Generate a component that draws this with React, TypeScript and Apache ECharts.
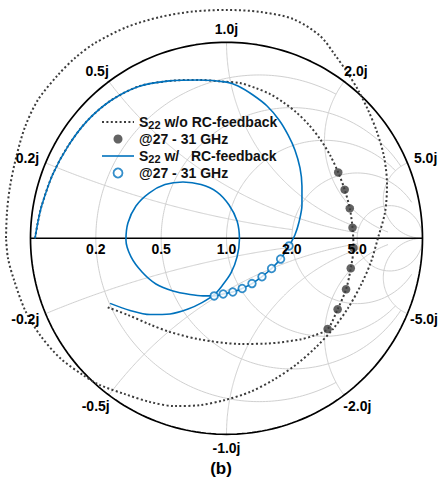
import React, { useEffect, useRef } from "react";
import * as echarts from "echarts";

const FONT = '"Liberation Sans", Arial, sans-serif';
const BLUE = "#0072BD";
const DARK = "#3c3c3c";
const GRID_COLOR = "#d0d0d0";
const CLEAR = "rgba(0,0,0,0)";

// Smith-chart grid: constant-resistance circles and constant-reactance arcs,
// each with the extent (in the other coordinate) up to which it is drawn.
const resistanceCircles = [0.2, 0.5, 1, 2, 5];
const resistanceExtent = [2, 5, 5, 10, Infinity];
const reactanceArcs = [0.2, 0.5, 1, 2, 5];
const reactanceExtent = [2, 5, 5, 10, Infinity];

const realTickValues = [0.2, 0.5, 1, 2, 5];
const realTickLabels = ["0.2", "0.5", "1.0", "2.0", "5.0"];
const imagTickValues = [0.2, 0.5, 1, 2, 5, -0.2, -0.5, -1, -2, -5];
const imagTickLabels = ["0.2j", "0.5j", "1.0j", "2.0j", "5.0j", "-0.2j", "-0.5j", "-1.0j", "-2.0j", "-5.0j"];

const legendNames = ["S22 w/o RC-feedback", "@27 - 31 GHz", "S22 w/ RC-feedback", "@27 - 31 GHz "];
const caption = "(b)";

// Reflection coefficient points [Re, Im]
// S22 without RC feedback: main trace
const withoutHead = [
  [-0.977, 0.0], [-0.962, 0.084], [-0.943, 0.166], [-0.888, 0.323], [-0.81, 0.468], [-0.712, 0.598],
  [-0.59, 0.703], [-0.448, 0.775], [-0.292, 0.803], [-0.142, 0.808], [-0.023, 0.8], [0.069, 0.792],
  [0.151, 0.766], [0.222, 0.736], [0.288, 0.695], [0.355, 0.644], [0.421, 0.578], [0.477, 0.507],
  [0.528, 0.425],
];
// S22 without RC feedback at 27, 27.5, ... 31 GHz
const withoutMarkers = [
  [0.57, 0.336], [0.603, 0.248], [0.629, 0.153], [0.643, 0.054], [0.648, -0.049],
  [0.634, -0.153], [0.61, -0.26], [0.567, -0.362], [0.516, -0.463],
];
const withoutTail = [
  [0.446, -0.496], [0.375, -0.516], [0.207, -0.537], [0.069, -0.539], [-0.135, -0.516],
  [-0.288, -0.478], [-0.39, -0.44], [-0.503, -0.391], [-0.61, -0.351],
];
// S22 without RC feedback: large loop (|Γ| > 1 on most of it)
const withoutLoop = [
  [-1.125, 0.002], [-1.12, 0.134], [-1.105, 0.262], [-1.074, 0.41], [-1.028, 0.568], [-0.962, 0.706],
  [-0.86, 0.833], [-0.773, 0.92], [-0.671, 0.996], [-0.508, 1.078], [-0.339, 1.129], [-0.171, 1.157],
  [0.003, 1.165], [0.171, 1.155], [0.339, 1.119], [0.477, 1.033], [0.554, 0.935], [0.615, 0.848],
  [0.671, 0.757], [0.722, 0.655], [0.768, 0.542], [0.804, 0.415], [0.819, 0.273], [0.809, 0.134],
  [0.773, 0.002], [0.737, -0.121], [0.686, -0.238], [0.62, -0.356], [0.543, -0.463], [0.457, -0.555],
  [0.36, -0.641], [0.247, -0.718], [0.12, -0.784], [-0.008, -0.825], [-0.135, -0.851], [-0.263, -0.856],
  [-0.39, -0.835], [-0.518, -0.795], [-0.645, -0.749], [-0.732, -0.698], [-0.849, -0.611], [-0.952, -0.493],
  [-1.028, -0.366], [-1.084, -0.213], [-1.115, -0.101], [-1.125, 0.002],
];

// S22 with RC feedback
const withHead = [
  [-0.977, 0.0], [-0.962, 0.084], [-0.943, 0.166], [-0.888, 0.323], [-0.81, 0.468], [-0.712, 0.598],
  [-0.59, 0.703], [-0.448, 0.775], [-0.292, 0.803], [-0.142, 0.808], [0.0, 0.797], [0.059, 0.777],
  [0.135, 0.731], [0.207, 0.675], [0.268, 0.604], [0.314, 0.528], [0.349, 0.451], [0.375, 0.359],
  [0.385, 0.267], [0.385, 0.17], [0.37, 0.083], [0.349, 0.017],
];
const withMarkers = [
  [0.319, -0.039], [0.276, -0.106], [0.23, -0.154], [0.181, -0.196], [0.13, -0.231],
  [0.08, -0.256], [0.032, -0.274], [-0.017, -0.284], [-0.063, -0.294],
];
const withTail = [
  [-0.12, -0.294], [-0.186, -0.287], [-0.273, -0.269], [-0.36, -0.233], [-0.431, -0.172], [-0.487, -0.095],
  [-0.513, -0.009], [-0.503, 0.078], [-0.462, 0.165], [-0.395, 0.231], [-0.314, 0.274], [-0.222, 0.287],
  [-0.13, 0.274], [-0.048, 0.236], [0.013, 0.17], [0.054, 0.088], [0.066, -0.004], [0.054, -0.095],
  [0.023, -0.177], [-0.023, -0.243], [-0.064, -0.289], [-0.125, -0.328], [-0.196, -0.361], [-0.288, -0.386],
  [-0.39, -0.389], [-0.492, -0.368], [-0.594, -0.332],
];

function zToGamma(r: number, x: number): number[] {
  const d = (r + 1) * (r + 1) + x * x;
  return [(r * r - 1 + x * x) / d, (2 * x) / d];
}

function resistancePoints(r: number, lim: number): number[][] {
  const tMax = lim === Infinity ? Math.PI / 2 : Math.atan(lim);
  const pts: number[][] = [];
  const N = 240;
  for (let i = 0; i <= N; i++) {
    const t = -tMax + (2 * tMax * i) / N;
    pts.push(zToGamma(r, Math.tan(t)));
  }
  return pts;
}

function reactancePoints(x: number, lim: number): number[][] {
  const sMax = lim === Infinity ? Math.PI / 2 : Math.atan(lim);
  const pts: number[][] = [];
  const N = 200;
  for (let i = 0; i <= N; i++) {
    const s = (sMax * i) / N;
    pts.push(zToGamma(Math.tan(s), x));
  }
  return pts;
}

function gridLine(name: string, data: number[][], color: string, width: number, z: number) {
  return {
    name,
    type: "line",
    data,
    symbol: "none",
    silent: true,
    smooth: false,
    clip: false,
    z,
    itemStyle: { color },
    lineStyle: { color, width },
  };
}

export default function App() {
  const ref = useRef<HTMLDivElement>(null);

  useEffect(() => {
    document.body.style.margin = "0";
    if (!ref.current) return;
    const chart = echarts.init(ref.current, null, { renderer: "svg" });

    const gridSeries: any[] = [];
    resistanceCircles.forEach((r, i) => {
      gridSeries.push(gridLine("r" + r, resistancePoints(r, resistanceExtent[i]), GRID_COLOR, 1, 1));
    });
    reactanceArcs.forEach((x, i) => {
      gridSeries.push(gridLine("x" + x, reactancePoints(x, reactanceExtent[i]), GRID_COLOR, 1, 1));
      gridSeries.push(gridLine("x-" + x, reactancePoints(-x, reactanceExtent[i]), GRID_COLOR, 1, 1));
    });
    gridSeries.push(gridLine("outer", resistancePoints(0, Infinity), "#000", 1.7, 2));
    gridSeries.push(gridLine("realAxis", [[-1, 0], [1, 0]], "#000", 1.5, 2));

    const dotted = { color: DARK, width: 2, type: [2, 2.4] };

    const rich = {
      m: { fontSize: 14, fontWeight: "bold", fontFamily: FONT, color: "#111", lineHeight: 16 },
      s: { fontSize: 11, fontWeight: "bold", fontFamily: FONT, color: "#111", lineHeight: 12, verticalAlign: "bottom" },
    };

    const option: any = {
      animation: false,
      grid: { left: 1.1, top: 3.1, width: 431.2, height: 441 },
      xAxis: { type: "value", min: -1.15, max: 1.05, show: false },
      yAxis: { type: "value", min: -1.05, max: 1.2, show: false },
      legend: {
        orient: "vertical",
        left: 96,
        top: 109,
        itemWidth: 32,
        itemHeight: 9,
        itemGap: 1,
        selectedMode: false,
        data: [
          { name: legendNames[0], itemStyle: { color: CLEAR, borderColor: CLEAR, borderWidth: 0 }, lineStyle: dotted },
          { name: legendNames[1], itemStyle: { color: DARK, borderWidth: 0 } },
          { name: legendNames[2], itemStyle: { color: CLEAR, borderColor: CLEAR, borderWidth: 0 }, lineStyle: { color: BLUE, width: 1.6 } },
          { name: legendNames[3], itemStyle: { color: "#fff", borderColor: BLUE, borderWidth: 1.8 } },
        ],
        formatter: (name: string) => {
          if (name === legendNames[0]) return "{m|S}{s|22}{m| w/o RC-feedback}";
          if (name === legendNames[2]) return "{m|S}{s|22}{m| w/ \u00a0\u00a0RC-feedback}";
          return "{m|" + name.trim() + "}";
        },
        textStyle: { fontSize: 14, fontWeight: "bold", fontFamily: FONT, color: "#111", lineHeight: 16, rich },
      },
      series: [
        ...gridSeries,
        {
          name: legendNames[0] + " loop",
          type: "line",
          data: withoutLoop,
          symbol: "none",
          smooth: 0.3,
          clip: false,
          silent: true,
          z: 3,
          itemStyle: { color: DARK },
          lineStyle: dotted,
        },
        {
          name: legendNames[0],
          type: "line",
          data: [...withoutHead, ...withoutMarkers, ...withoutTail],
          symbol: "none",
          smooth: 0.3,
          clip: false,
          silent: true,
          z: 3,
          itemStyle: { color: DARK },
          lineStyle: dotted,
        },
        {
          name: legendNames[2],
          type: "line",
          data: [...withHead, ...withMarkers, ...withTail],
          symbol: "none",
          smooth: 0.3,
          clip: false,
          silent: true,
          z: 4,
          itemStyle: { color: BLUE },
          lineStyle: { color: BLUE, width: 1.6 },
        },
        {
          name: legendNames[1],
          type: "scatter",
          data: withoutMarkers,
          symbol: "circle",
          symbolSize: 8.5,
          silent: true,
          z: 5,
          itemStyle: { color: DARK },
        },
        {
          name: legendNames[3],
          type: "scatter",
          data: withMarkers,
          symbol: "circle",
          symbolSize: 7.6,
          silent: true,
          z: 6,
          itemStyle: { color: "#fff", borderColor: BLUE, borderWidth: 1.8 },
        },
      ],
    };
    chart.setOption(option);

    // tick labels placed through the chart's own coordinate conversion
    const ctx = document.createElement("canvas").getContext("2d");
    const font = "bold 14px " + FONT;
    if (ctx) ctx.font = font;
    const measure = (t: string) => (ctx ? ctx.measureText(t).width : t.length * 8);
    const toPx = (g: number[]) => chart.convertToPixel({ gridIndex: 0 }, g) as number[];
    const W = chart.getWidth();
    const elements: any[] = [];
    realTickValues.forEach((r, i) => {
      const p = toPx([(r - 1) / (r + 1), 0]);
      elements.push({
        type: "text",
        x: p[0],
        y: p[1] + 11,
        z: 100,
        silent: true,
        style: { text: realTickLabels[i], fontSize: 14, fontWeight: "bold", fontFamily: FONT, fill: "#000", align: "center", verticalAlign: "middle" },
      });
    });
    imagTickValues.forEach((x, i) => {
      const g = zToGamma(0, x);
      const p = toPx(g);
      const ux = g[0];
      const uy = -g[1];
      const w = measure(imagTickLabels[i]);
      let cx = p[0] + ux * 8 + (ux * w) / 2;
      if (cx + w / 2 > W - 1) cx = W - 1 - w / 2;
      elements.push({
        type: "text",
        x: cx,
        y: p[1] + uy * 8 + uy * 5.5,
        z: 100,
        silent: true,
        style: { text: imagTickLabels[i], fontSize: 14, fontWeight: "bold", fontFamily: FONT, fill: "#000", align: "center", verticalAlign: "middle" },
      });
    });
    elements.push({
      type: "text",
      x: 221,
      y: 468,
      z: 100,
      silent: true,
      style: { text: caption, fontSize: 17, fontWeight: "bold", fontFamily: FONT, fill: "#000", align: "center", verticalAlign: "middle" },
    });
    chart.setOption({ graphic: { elements } });

    return () => chart.dispose();
  }, []);

  return <div ref={ref} style={{ width: 439, height: 481 }} />;
}
